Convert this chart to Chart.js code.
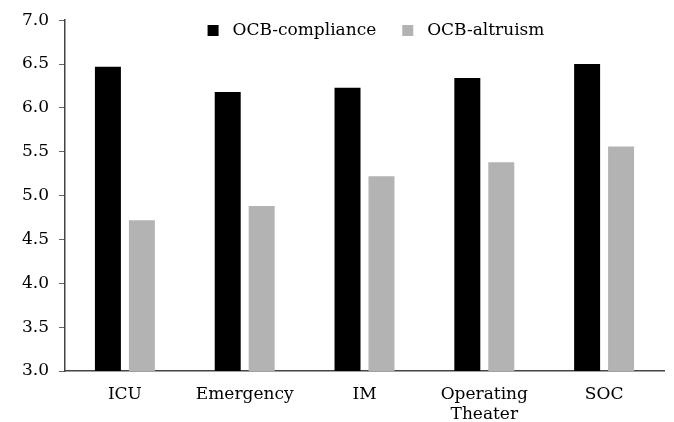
<!DOCTYPE html>
<html>
<head>
<meta charset="utf-8">
<script src="https://cdn.jsdelivr.net/npm/chart.js@4"></script>
<style>
    html, body { margin: 0; padding: 0; background: #fff; }
    #wrap { width: 674px; height: 422px; }
</style>
</head>
<body>
<div id="wrap"><canvas id="myChart" width="674" height="422"></canvas></div>
<script>
const categories = ['ICU', 'Emergency', 'IM', ['Operating', 'Theater'], 'SOC'];
const compliance = [6.47, 6.18, 6.23, 6.34, 6.50];
const altruism = [4.72, 4.88, 5.22, 5.38, 5.56];
const yTicks = [3.0, 3.5, 4.0, 4.5, 5.0, 5.5, 6.0, 6.5, 7.0];

// keep the top legend from taking space, then place it inside the plot
const legendInside = {
    id: 'legendInside',
    beforeLayout(chart) {
        const legend = chart.legend;
        if (legend && !legend._flat) {
            const orig = legend.update;
            legend.update = function () {
                orig.apply(this, arguments);
                this.height = 0;
            };
            legend._flat = true;
        }
    },
    afterLayout(chart) {
        const legend = chart.legend;
        const pad = legend.options.labels.padding;
        legend.top = 32 - pad - 10;
        legend.bottom = legend.top + 60;
        legend.height = 60;
        legend.left += 44;
        legend.right += 44;
    }
};

document.addEventListener('DOMContentLoaded', function () {
    const ctx = document.getElementById('myChart').getContext('2d');
    const font = { family: '"DejaVu Serif", serif', size: 17 };

    new Chart(ctx, {
        type: 'bar',
        data: {
            labels: categories,
            datasets: [
                {
                    label: 'OCB-compliance',
                    data: compliance,
                    backgroundColor: '#000000',
                    borderWidth: 0
                },
                {
                    label: 'OCB-altruism',
                    data: altruism,
                    backgroundColor: '#b3b3b3',
                    borderWidth: 0
                }
            ]
        },
        plugins: [legendInside],
        options: {
            responsive: false,
            animation: false,
            categoryPercentage: 0.567,
            barPercentage: 0.765,
            layout: { padding: { top: 18, right: 10, left: 0, bottom: 0 } },
            plugins: {
                tooltip: { enabled: false },
                legend: {
                    position: 'top',
                    align: 'center',
                    labels: {
                        color: '#000',
                        font: font,
                        boxWidth: 11,
                        boxHeight: 11,
                        padding: 26,
                        generateLabels: function (chart) {
                            const items = Chart.defaults.plugins.legend.labels.generateLabels(chart);
                            items.forEach(it => { it.text = ' ' + it.text; it.lineWidth = 0; });
                            return items;
                        }
                    }
                }
            },
            scales: {
                x: {
                    grid: { display: false },
                    border: { display: true, color: '#444', width: 1.5 },
                    ticks: { color: '#000', font: font, padding: 5, maxRotation: 0 },
                    afterFit: function (scale) { scale.height = 51; }
                },
                y: {
                    min: 3,
                    max: 7,
                    afterBuildTicks: function (scale) {
                        scale.ticks = yTicks.map(v => ({ value: v }));
                    },
                    grid: { drawOnChartArea: false, drawTicks: true, tickLength: 6, color: '#666' },
                    border: { display: true, color: '#444', width: 1.5 },
                    ticks: {
                        color: '#000',
                        font: font,
                        padding: 10,
                        callback: v => v.toFixed(1)
                    },
                    afterFit: function (scale) { scale.width = 65; }
                }
            }
        }
    });
});
</script>
</body>
</html>
